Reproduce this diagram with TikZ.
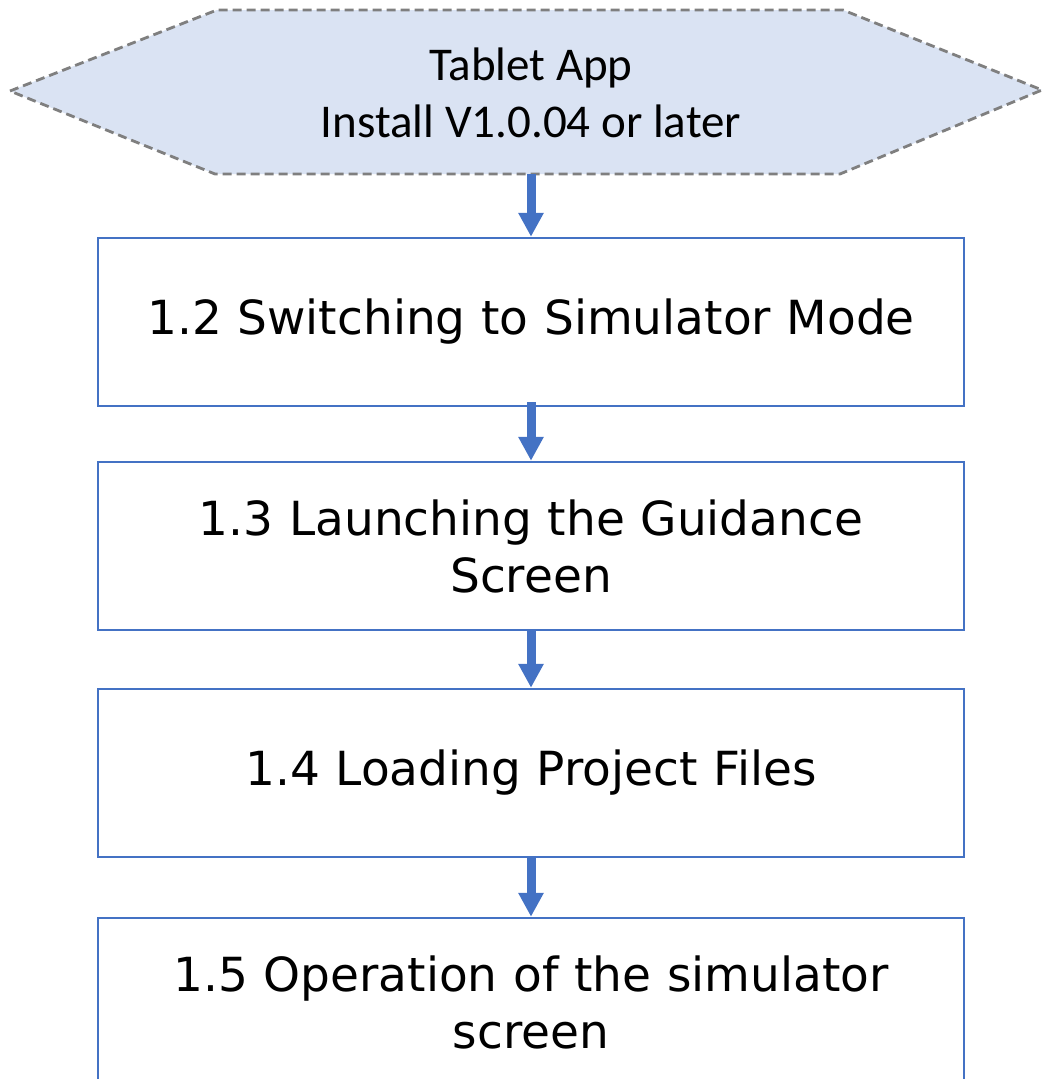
\documentclass[tikz,border=0pt]{standalone}
\usepackage{fontspec}
\usetikzlibrary{arrows.meta}
\newfontfamily\hexfont{Carlito}
\newfontfamily\boxfont{DejaVu Sans}
\definecolor{hexfill}{HTML}{DAE3F3}
\definecolor{hexline}{HTML}{7F7F7F}
\definecolor{accent}{HTML}{4472C4}
\tikzset{
  stepbox/.style={draw=accent, line width=2.5pt, fill=white, minimum width=866pt, minimum height=168pt,
    align=center, text width=820pt, font=\boxfont\fontsize{47}{57}\selectfont, inner sep=0pt},
  flowarrow/.style={draw=accent, line width=9pt, -{Triangle[width=24pt,length=24pt]}},
}
\begin{document}
\begin{tikzpicture}[x=1pt,y=-1pt]
\useasboundingbox (0,0) rectangle (1043,1079);
% hexagon
\coordinate (hl) at (10,91);
\coordinate (htl) at (217,10);
\coordinate (htr) at (843,10);
\coordinate (hr) at (1042,90);
\coordinate (hbr) at (840,174);
\coordinate (hbl) at (215,174);
\coordinate (hexbot) at (531,174);
\draw[fill=hexfill, draw=hexline, line width=2.8pt, dash pattern=on 9pt off 5pt]
  (hl) -- (htl) -- (htr) -- (hr) -- (hbr) -- (hbl) -- cycle;
\node[align=center, font=\hexfont\fontsize{47}{57}\selectfont] (hex) at (531,93) {Tablet App\\Install V1.0.04 or later};
\node[stepbox] (b1) at (531,322) {1.2 Switching to Simulator Mode};
\node[stepbox] (b2) at (531,546) {1.3 Launching the Guidance\\Screen};
\node[stepbox] (b3) at (531,773) {1.4 Loading Project Files};
\node[stepbox] (b4) at (531,1002) {1.5 Operation of the simulator\\screen};
\draw[flowarrow] (hexbot) -- (b1.north);
\draw[flowarrow] ([yshift=5pt]b1.south) -- (b2.north);
\draw[flowarrow] (b2.south) -- (b3.north);
\draw[flowarrow] (b3.south) -- (b4.north);
\end{tikzpicture}
\end{document}
